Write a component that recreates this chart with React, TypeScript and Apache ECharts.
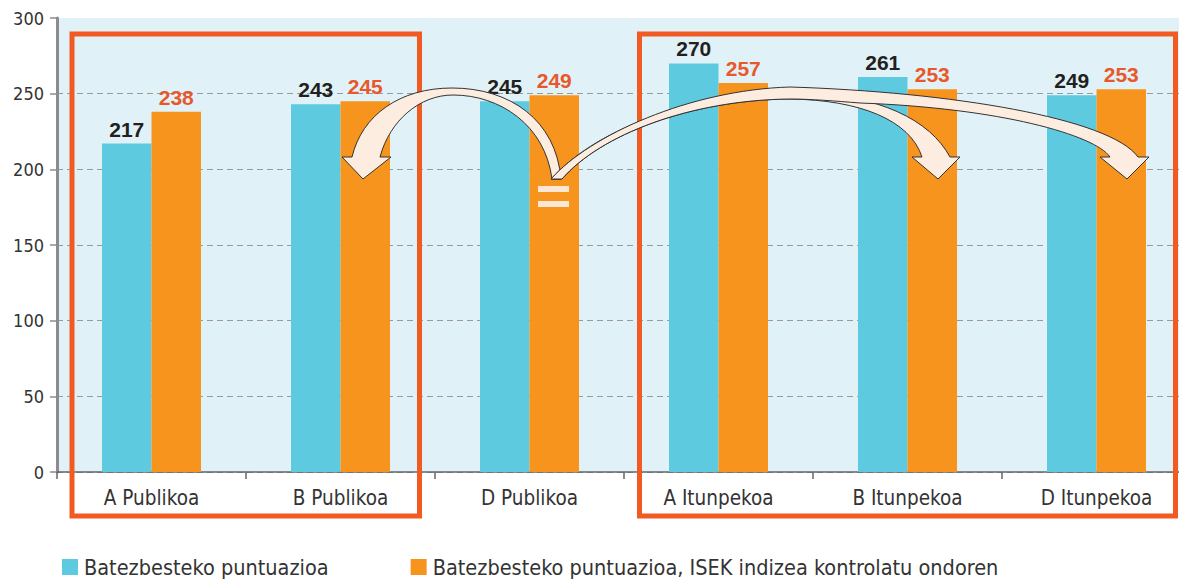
import React, { useEffect, useRef } from "react";
import * as echarts from "echarts";

const categories = ["A Publikoa", "B Publikoa", "D Publikoa", "A Itunpekoa", "B Itunpekoa", "D Itunpekoa"];
const meanScores = [217, 243, 245, 270, 261, 249];
const adjustedScores = [238, 245, 249, 257, 253, 253];
const seriesNames = [
  "Batezbesteko puntuazioa",
  "Batezbesteko puntuazioa, ISEK indizea kontrolatu ondoren",
];
const yMin = 0;
const yMax = 300;
const yInterval = 50;

const ARROW_LEFT =
  "M 561 179 C 556 120 510 88 452 88 C 400 88 362 115 352 157 L 342 157 L 363 179 L 391 157 L 380 157 C 390 120 420 95 453 95 C 500 95 545 125 552 179 Z";
const ARROW_B =
  "M 551 179 C 600 125 700 92 800 92 C 880 95 930 120 950 157 L 960 157 L 938 179 L 912 157 L 922 157 C 910 120 860 100 790 99 C 690 100 600 135 562 179 Z";
const ARROW_D =
  "M 551 179 C 590 135 690 90 790 87 C 950 92 1110 118 1138 157 L 1149 157 L 1127 179 L 1100 157 L 1110 157 C 1095 135 1000 108 860 103 C 835 101 810 99 790 99 C 690 100 600 135 562 179 Z";

let registered = false;
function registerShapes() {
  if (registered) return;
  echarts.graphic.registerShape("arrowLeft", echarts.graphic.extendPath(ARROW_LEFT, {}));
  echarts.graphic.registerShape("arrowB", echarts.graphic.extendPath(ARROW_B, {}));
  echarts.graphic.registerShape("arrowD", echarts.graphic.extendPath(ARROW_D, {}));
  registered = true;
}

const LABEL_FONT = '"Liberation Sans", Arial, sans-serif';
const TEXT_FONT = '"DejaVu Sans Condensed", "DejaVu Sans", sans-serif';

export default function App() {
  const ref = useRef<HTMLDivElement>(null);

  useEffect(() => {
    if (!ref.current) return;
    registerShapes();
    const chart = echarts.init(ref.current, undefined, { renderer: "svg" });
    const arrowStyle = { fill: "#fdece0", stroke: "#333333", lineWidth: 1 };
    const boxStyle = { fill: "transparent", stroke: "#f15a22", lineWidth: 5 };
    chart.setOption({
      animation: false,
      backgroundColor: "#ffffff",
      grid: {
        left: 57,
        top: 18,
        width: 1134,
        height: 454,
        show: true,
        backgroundColor: "#e0f2f8",
        borderWidth: 0,
      },
      legend: {
        data: seriesNames,
        left: 57,
        top: 551,
        itemWidth: 16,
        itemHeight: 16,
        itemGap: 82,
        icon: "rect",
        textStyle: {
          fontFamily: TEXT_FONT,
          fontSize: 21.5,
          color: "#333333",
          padding: [0, 0, 0, 1],
        },
      },
      xAxis: {
        type: "category",
        data: categories,
        axisLine: { lineStyle: { color: "#666666", width: 1.5 } },
        axisTick: { show: true, length: 7, lineStyle: { color: "#666666", width: 1.5 } },
        axisLabel: {
          interval: 0,
          margin: 15,
          fontFamily: TEXT_FONT,
          fontSize: 20.5,
          color: "#333333",
        },
      },
      yAxis: {
        type: "value",
        min: yMin,
        max: yMax,
        interval: yInterval,
        axisLine: { show: true, lineStyle: { color: "#8c8c8c", width: 3 } },
        axisTick: { show: true, length: 7, lineStyle: { color: "#8c8c8c", width: 1.5 } },
        axisLabel: {
          margin: 13,
          fontFamily: TEXT_FONT,
          fontSize: 18,
          color: "#333333",
        },
        splitLine: {
          show: true,
          showMaxLine: false,
          lineStyle: { color: "#9a9a9a", width: 1, type: [6, 4] },
        },
      },
      series: [
        {
          name: seriesNames[0],
          type: "bar",
          data: meanScores,
          barWidth: 49.5,
          barGap: "0%",
          itemStyle: { color: "#5ecae0" },
          label: {
            show: true,
            position: "top",
            distance: 4,
            fontFamily: LABEL_FONT,
            fontWeight: "bold",
            fontSize: 21,
            color: "#231f20",
          },
        },
        {
          name: seriesNames[1],
          type: "bar",
          data: adjustedScores,
          barWidth: 49.5,
          barGap: "0%",
          itemStyle: { color: "#f7941e" },
          label: {
            show: true,
            position: "top",
            distance: 4,
            fontFamily: LABEL_FONT,
            fontWeight: "bold",
            fontSize: 21,
            color: "#e8582a",
          },
        },
      ],
      graphic: [
        { type: "rect", z: 50, shape: { x: 72, y: 34, width: 347.5, height: 482 }, style: boxStyle },
        { type: "rect", z: 50, shape: { x: 639.5, y: 34, width: 536, height: 482 }, style: boxStyle },
        { type: "arrowLeft", z: 60, x: 0, y: 0, style: arrowStyle },
        { type: "arrowB", z: 61, x: 0, y: 0, style: arrowStyle },
        { type: "arrowD", z: 62, x: 0, y: 0, style: arrowStyle },
        { type: "rect", z: 63, shape: { x: 538, y: 186, width: 31, height: 6 }, style: { fill: "#fde6d6" } },
        { type: "rect", z: 63, shape: { x: 538, y: 201, width: 31, height: 6 }, style: { fill: "#fde6d6" } },
      ],
    });
    return () => {
      chart.dispose();
    };
  }, []);

  return (
    <div style={{ position: "absolute", left: 0, top: 0, width: 1179, height: 580, overflow: "hidden" }}>
      <div ref={ref} style={{ width: 1191, height: 580 }} />
    </div>
  );
}
